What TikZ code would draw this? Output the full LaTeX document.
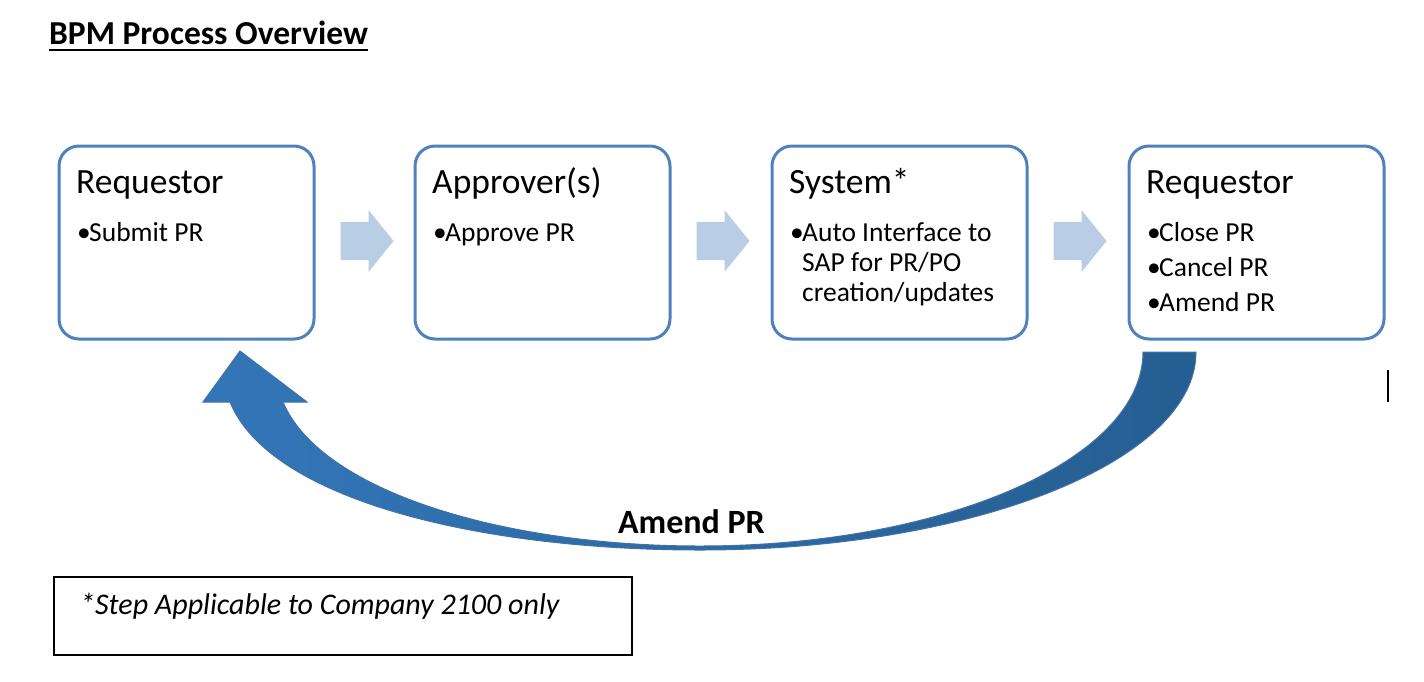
\documentclass[tikz,border=0pt]{standalone}
\usepackage{fontspec}
\setmainfont{Carlito}
\usetikzlibrary{calc}
\definecolor{boxblue}{HTML}{4F81BD}
\definecolor{lightarrow}{HTML}{B9CDE5}
\definecolor{arrowL}{HTML}{3376B8}
\definecolor{arrowR}{HTML}{255E91}
\definecolor{arrowEdge}{HTML}{4372A8}
\newcommand\smallarr[1]{\fill[smallarrow] ($(#1.east)+(25,-20.5)$) -- ++(28,0) -- ++(0,-12) -- ++(25,31) -- ++(-25,31) -- ++(0,-12) -- ++(-28,0) -- cycle;}
\begin{document}
\begin{tikzpicture}[x=1pt,y=-1pt,
 box/.style={draw=boxblue, line width=3pt, rounded corners=20pt, minimum width=255pt, minimum height=193pt, inner sep=0pt},
 headtxt/.style={anchor=base west, inner sep=0pt, font=\fontsize{35.5}{40}\selectfont},
 bultxt/.style={anchor=base west, inner sep=0pt, font=\fontsize{27.5}{31}\selectfont},
 smallarrow/.style={fill=lightarrow},
]
\useasboundingbox (0,0) rectangle (1424,681);
\fill[white] (0,0) rectangle (1424,681);
% title
\node[anchor=base west, inner sep=0pt, font=\fontsize{33.5}{38}\selectfont\bfseries] (title) at (49,44) {BPM Process Overview};
\draw[line width=2pt] ([yshift=-5.5pt]title.base west) -- ([yshift=-5.5pt]title.base east);
% boxes
\node[box] (b1) at (186.5,242.5) {};
\node[box] (b2) at (542.5,242.5) {};
\node[box] (b3) at (899.5,242.5) {};
\node[box] (b4) at (1256.5,242.5) {};
% box 1
\node[headtxt] (h1) at (76,193) {Requestor};
\node[bultxt] (p1) at (77,241) {•};
\node[bultxt] (t1) at (89,241) {Submit PR};
% box 2
\node[headtxt] (h2) at (432,193) {Approver(s)};
\node[bultxt] (p2) at (433,241) {•};
\node[bultxt] (t2) at (445,241) {Approve PR};
% box 3
\node[headtxt] (h3) at (789,193) {System*};
\node[bultxt] (p3) at (790,241) {•};
\node[bultxt] (t3a) at (802,241) {Auto Interface to};
\node[bultxt] (t3b) at (802,271) {SAP for PR/PO};
\node[bultxt] (t3c) at (802,301) {creation/updates};
% box 4
\node[headtxt] (h4) at (1146,193) {Requestor};
\node[bultxt] (p4a) at (1147,241) {•};
\node[bultxt] (t4a) at (1159,241) {Close PR};
\node[bultxt] (p4b) at (1147,276) {•};
\node[bultxt] (t4b) at (1159,276) {Cancel PR};
\node[bultxt] (p4c) at (1147,311) {•};
\node[bultxt] (t4c) at (1159,311) {Amend PR};
% small arrows
\smallarr{b1}
\smallarr{b2}
\smallarr{b3}
% big curved arrow
\path[left color=arrowL, right color=arrowR, draw=arrowEdge, line width=1pt]
 (1196,352) .. controls (1196,461) and (974,550) .. (700,550)
 .. controls (480,550) and (270,500) .. (230,402)
 -- (203,402) -- (240,351) -- (307,402) -- (283,402)
 .. controls (320,490) and (500,546) .. (700,546)
 .. controls (945,546) and (1143,459) .. (1143,352) -- cycle;
\node[anchor=base, inner sep=0pt, font=\fontsize{34}{38}\selectfont\bfseries] (amend) at (691.5,533) {Amend PR};
% footnote
\node[draw, line width=2pt, minimum width=578pt, minimum height=78pt, inner sep=0pt] (note) at (343,616) {};
\node[anchor=base west, inner sep=0pt, font=\fontsize{30}{34}\selectfont\itshape] (notetxt) at (80,614) {*Step Applicable to Company 2100 only};
% cursor mark
\draw[line width=1.5pt] (1388,370) -- (1388,402);
\end{tikzpicture}
\end{document}
